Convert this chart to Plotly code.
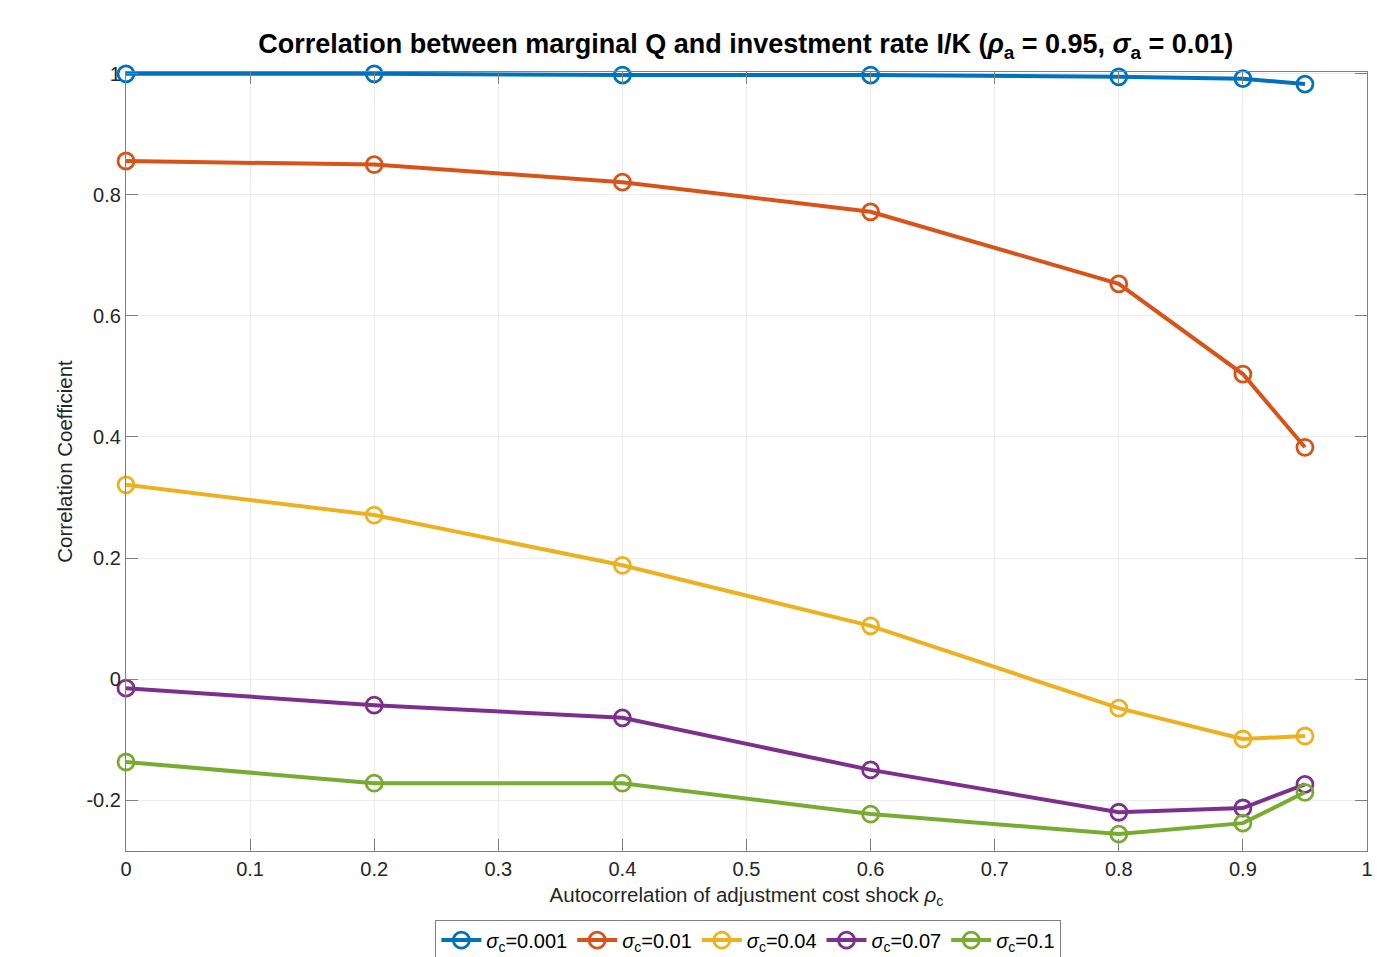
import plotly.graph_objects as go

# Autocorrelation of the adjustment cost shock
rho_c = [0, 0.2, 0.4, 0.6, 0.8, 0.9, 0.95]

# Correlation between marginal Q and I/K for each sigma_c
corr_s0001 = [1.000, 1.000, 0.998, 0.998, 0.995, 0.992, 0.983]
corr_s001 = [0.856, 0.850, 0.821, 0.772, 0.653, 0.504, 0.383]
corr_s004 = [0.321, 0.271, 0.188, 0.088, -0.048, -0.099, -0.094]
corr_s007 = [-0.015, -0.043, -0.064, -0.150, -0.220, -0.213, -0.174]
corr_s01 = [-0.137, -0.172, -0.172, -0.223, -0.256, -0.238, -0.187]

series_names = ["0.001", "0.01", "0.04", "0.07", "0.1"]
series_values = [corr_s0001, corr_s001, corr_s004, corr_s007, corr_s01]
colors = ["#0072BD", "#D95319", "#EDB120", "#7E2F8E", "#77AC30"]

x_ticks = [0, 0.1, 0.2, 0.3, 0.4, 0.5, 0.6, 0.7, 0.8, 0.9, 1]
x_ticklabels = ["0", "0.1", "0.2", "0.3", "0.4", "0.5", "0.6", "0.7", "0.8", "0.9", "1"]
y_ticks = [-0.2, 0, 0.2, 0.4, 0.6, 0.8, 1]
y_ticklabels = ["-0.2", "0", "0.2", "0.4", "0.6", "0.8", "1"]

font_family = "Liberation Sans, Arial, Helvetica, sans-serif"

fig = go.Figure()
for name, vals, col in zip(series_names, series_values, colors):
    fig.add_trace(go.Scatter(
        x=rho_c, y=vals, mode="lines+markers",
        name="<i>σ</i><sub>c</sub>=" + name,
        line=dict(color=col, width=4),
        marker=dict(symbol="circle-open", size=16, color=col, line=dict(width=2.8, color=col)),
        cliponaxis=False,
    ))

axis_common = dict(
    showline=True, linecolor="#808080", linewidth=1.2, mirror="ticks",
    ticks="inside", ticklen=12, tickcolor="#808080", tickwidth=1.2,
    showgrid=True, gridcolor="#ececec", gridwidth=1, zeroline=False,
    tickfont=dict(size=20, color="#262626", family=font_family),
)

fig.update_layout(
    width=1387, height=957,
    margin=dict(l=126, r=20, t=72, b=106, autoexpand=False),
    paper_bgcolor="white", plot_bgcolor="white",
    font=dict(family=font_family, color="#262626"),
    title=dict(
        text="<b>Correlation between marginal Q and investment rate I/K (<i>ρ</i><sub>a</sub> = 0.95, <i>σ</i><sub>a</sub> = 0.01)</b>",
        x=0.5377, xanchor="center", y=0.954, yanchor="middle",
        font=dict(size=27, color="black", family=font_family),
    ),
    xaxis=dict(
        range=[0, 1], tickvals=x_ticks, ticktext=x_ticklabels,
        title=dict(text="Autocorrelation of adjustment cost shock <i>ρ</i><sub>c</sub>",
                   font=dict(size=20.5, color="#262626"), standoff=8),
        **axis_common,
    ),
    yaxis=dict(
        range=[-0.284, 1.003], tickvals=y_ticks, ticktext=y_ticklabels,
        title=dict(text="Correlation Coefficient", font=dict(size=20.5, color="#262626"), standoff=8),
        **axis_common,
    ),
    legend=dict(
        orientation="h", x=0.5015, xanchor="center", y=-0.088, yanchor="top",
        bordercolor="#808080", borderwidth=1, bgcolor="white",
        font=dict(size=20, color="black"), itemwidth=40, tracegroupgap=0,
    ),
)

fig.write_html("out.html")
